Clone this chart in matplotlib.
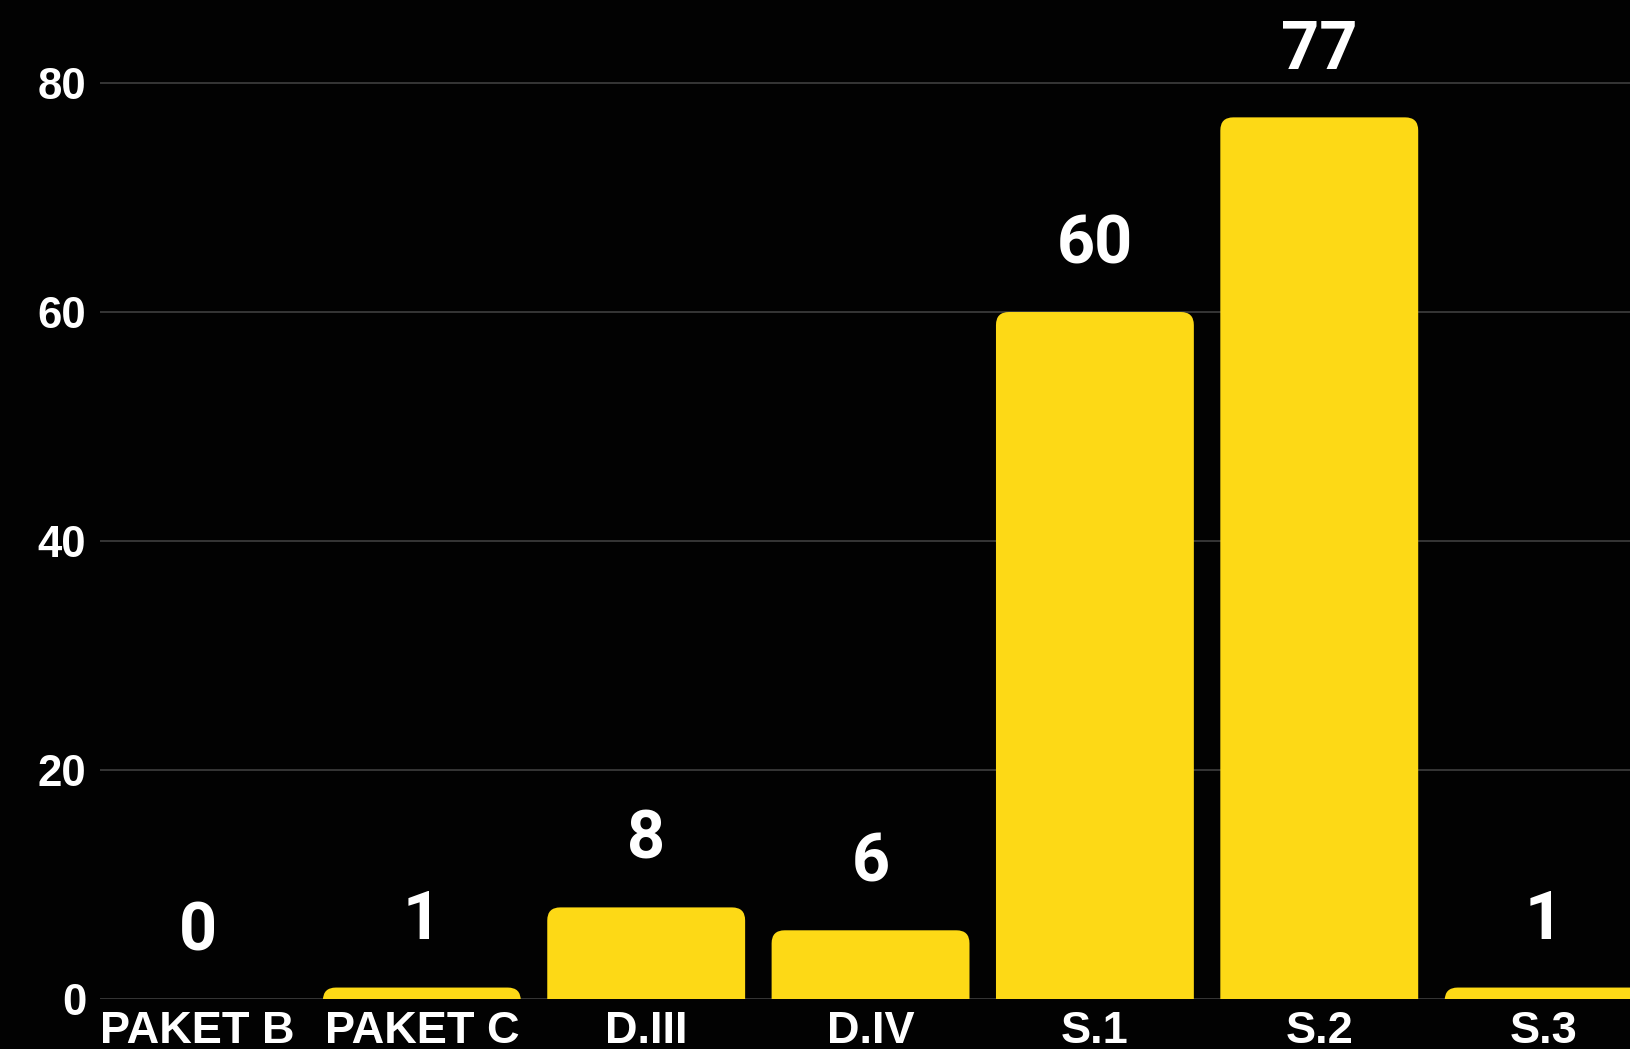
import matplotlib
matplotlib.use("Agg")
import matplotlib.pyplot as plt
from matplotlib.patches import FancyBboxPatch

categories = ["PAKET B", "PAKET C", "D.III", "D.IV", "S.1", "S.2", "S.3"]
values = [0, 1, 8, 6, 60, 77, 1]
yticks = [0, 20, 40, 60, 80]

BG = "#020202"
BAR = "#FDD916"
GRID = "#3a3a3a"

W, H = 1630, 1049
fig = plt.figure(figsize=(W / 100, H / 100), dpi=100, facecolor=BG)
ax_left = 100 / W
ax_bottom = 50 / H
ax = fig.add_axes([ax_left, ax_bottom, 1 - ax_left, 1 - ax_bottom])
ax.set_facecolor(BG)

xlim = (-0.4345, 6.385)
ylim = (0, 87.25)
ax.set_xlim(*xlim)
ax.set_ylim(*ylim)

x = list(range(len(categories)))
bar_w = 0.882
bars = ax.bar(x, values, width=bar_w, color=BAR, zorder=3)

# pixels per data unit, to keep corner rounding circular
ax_w_px = W * (1 - ax_left)
ax_h_px = H * (1 - ax_bottom)
px_x = ax_w_px / (xlim[1] - xlim[0])
px_y = ax_h_px / (ylim[1] - ylim[0])
aspect = px_x / px_y
radius_px = 13
r_x = radius_px / px_x

for b in bars:
    bx, bw, bh = b.get_x(), b.get_width(), b.get_height()
    b.set_visible(False)
    if bh <= 0:
        continue
    ext = 3.0
    patch = FancyBboxPatch((bx, -ext), bw, bh + ext,
                           boxstyle=f"round,pad=0,rounding_size={r_x}",
                           mutation_aspect=aspect,
                           facecolor=BAR, edgecolor="none", zorder=3)
    ax.add_patch(patch)

# value labels
for xi, v in zip(x, values):
    ax.annotate(str(v), (xi, v), xytext=(0, 25), textcoords="offset points",
                ha="center", va="bottom", color="white",
                fontsize=48, fontfamily="Roboto", fontweight="bold", zorder=5)

ax.set_yticks(yticks)
ax.set_yticklabels([str(t) for t in yticks])
ax.set_xticks(x)
ax.set_xticklabels(categories)
ax.tick_params(axis="both", length=0, colors="white")
ax.tick_params(axis="y", pad=10)
ax.tick_params(axis="x", pad=8.5)
for lab in ax.get_yticklabels():
    lab.set_fontfamily("Liberation Sans")
    lab.set_fontweight("bold")
    lab.set_fontsize(31.5)
    lab.set_color("white")
for lab in ax.get_xticklabels():
    lab.set_fontfamily("Liberation Sans")
    lab.set_fontweight("bold")
    lab.set_fontsize(32.5)
    lab.set_color("white")

ax.grid(axis="y", color=GRID, linewidth=1.3, zorder=0)
ax.grid(axis="x", visible=False)
for s in ax.spines.values():
    s.set_visible(False)
ax.set_axisbelow(True)

fig.savefig("out.png", dpi=100, facecolor=BG)
